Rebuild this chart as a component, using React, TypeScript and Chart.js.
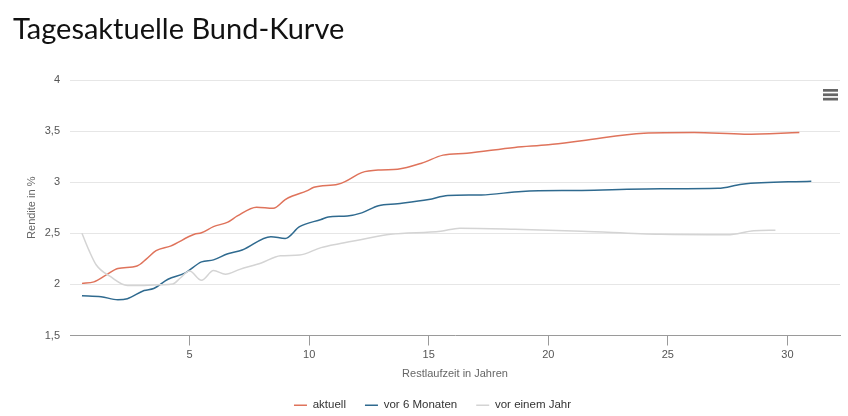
import { useEffect, useRef } from "react";
import { Chart, registerables } from "chart.js";

Chart.register(...registerables);

const seriesNames = ["aktuell", "vor 6 Monaten", "vor einem Jahr"];

const maturitiesCurrent = [0.5, 1.0, 1.5, 2.0, 2.8, 3.2, 3.6, 4.2, 5.2, 5.5, 6.0, 6.6, 7.0, 7.8, 8.5, 9.0, 9.3, 9.9, 10.2, 11.2, 11.5, 12.2, 13.0, 13.7, 14.7, 15.6, 16.6, 18.6, 20.0, 21.4, 24.0, 26.1, 28.2, 30.5];
const yieldsCurrent = [2.01, 2.025, 2.09, 2.155, 2.18, 2.25, 2.33, 2.375, 2.49, 2.505, 2.565, 2.61, 2.67, 2.755, 2.745, 2.83, 2.865, 2.915, 2.95, 2.98, 3.006, 3.094, 3.12, 3.127, 3.186, 3.265, 3.284, 3.34, 3.366, 3.405, 3.48, 3.486, 3.47, 3.486];

const maturities6M = [0.5, 1.3, 2.0, 2.4, 3.1, 3.5, 4.1, 4.8, 5.5, 6.0, 6.6, 7.2, 8.4, 9.0, 9.6, 10.5, 10.8, 11.6, 12.2, 12.9, 13.7, 15.0, 15.8, 17.2, 18.9, 21.4, 24.7, 27.1, 28.1, 31.0];
const yields6M = [1.89, 1.88, 1.85, 1.86, 1.94, 1.96, 2.05, 2.11, 2.22, 2.24, 2.30, 2.336, 2.467, 2.45, 2.565, 2.635, 2.66, 2.67, 2.70, 2.77, 2.79, 2.83, 2.87, 2.875, 2.91, 2.92, 2.935, 2.94, 2.98, 3.01];

const maturities1Y = [0.5, 0.8, 1.1, 1.7, 2.4, 3.1, 3.8, 4.3, 4.6, 5.0, 5.5, 6.0, 6.5, 7.1, 8.0, 8.8, 9.6, 10.5, 11.3, 12.2, 13.4, 15.5, 16.3, 18.6, 21.4, 24.7, 27.5, 28.6, 29.5];
const yields1Y = [2.5, 2.33, 2.19, 2.075, 1.99, 1.99, 1.996, 2.003, 2.06, 2.13, 2.04, 2.135, 2.10, 2.147, 2.21, 2.28, 2.287, 2.36, 2.40, 2.44, 2.49, 2.52, 2.55, 2.54, 2.52, 2.49, 2.486, 2.525, 2.53];

const seriesColors = ["#df735b", "#2f6a8f", "#d4d4d4"];

const xTickValues = [5, 10, 15, 20, 25, 30];
const xMin = 0;
const xMax = 32.2;
const yMin = 1.5;
const yMax = 4;
const yStep = 0.5;

const titleText = "Tagesaktuelle Bund-Kurve";
const xAxisTitle = "Restlaufzeit in Jahren";
const yAxisTitle = "Rendite in %";

function toPoints(xs: number[], ys: number[]) {
  return xs.map((x, i) => ({ x, y: ys[i] }));
}

export default function App() {
  const ref = useRef<HTMLCanvasElement>(null);

  useEffect(() => {
    const font = { family: "'Liberation Sans', Arial, sans-serif", size: 11 };
    const seriesData = [
      toPoints(maturitiesCurrent, yieldsCurrent),
      toPoints(maturities6M, yields6M),
      toPoints(maturities1Y, yields1Y),
    ];
    const chart = new Chart(ref.current!, {
      type: "line",
      data: {
        datasets: seriesNames.map((name, i) => ({
          label: name,
          data: seriesData[i],
          borderColor: seriesColors[i],
          backgroundColor: seriesColors[i],
          borderWidth: 1.5,
          pointRadius: 0,
          pointStyle: "line",
          cubicInterpolationMode: "monotone" as const,
          fill: false,
          order: 3 - i,
        })),
      },
      options: {
        animation: false,
        responsive: false,
        layout: { padding: { top: 80, right: 8, left: 25, bottom: -5 } },
        scales: {
          x: {
            type: "linear",
            min: xMin,
            max: xMax,
            afterBuildTicks: (s: any) => {
              s.ticks = xTickValues.map((v) => ({ value: v }));
            },
            afterFit: (s: any) => {
              s.height = 45;
            },
            grid: { drawOnChartArea: false, drawTicks: true, tickLength: 10, color: "#9a9a9a" },
            border: { color: "#9a9a9a", width: 1 },
            ticks: { padding: 3, font, color: "#555", maxRotation: 0 },
            title: {
              display: true,
              text: xAxisTitle,
              font,
              color: "#666",
              padding: { top: 0, bottom: 0 },
            },
          },
          y: {
            min: yMin,
            max: yMax,
            afterFit: (s: any) => {
              s.width = 45;
            },
            ticks: {
              stepSize: yStep,
              padding: 10,
              font,
              color: "#555",
              callback: (v: any) => String(v).replace(".", ","),
            },
            grid: {
              drawTicks: false,
              color: (c: any) => (c.tick && c.tick.value === yMin ? "rgba(0,0,0,0)" : "#e6e6e6"),
            },
            border: { display: false },
            title: {
              display: true,
              text: yAxisTitle,
              font,
              color: "#666",
              padding: { top: 0, bottom: 0 },
            },
          },
        },
        plugins: {
          legend: {
            position: "bottom",
            labels: {
              usePointStyle: true,
              pointStyleWidth: 13,
              padding: 19,
              font: { ...font, size: 11.5 },
              color: "#333",
              sort: (a: any, b: any) => a.datasetIndex - b.datasetIndex,
            },
          },
          tooltip: { enabled: false },
        },
      },
    } as any);
    return () => chart.destroy();
  }, []);

  return (
    <div style={{ position: "absolute", left: 0, top: 0, width: 848, height: 416, background: "#fff" }}>
      <canvas ref={ref} width={848} height={416} style={{ display: "block" }} />
      <div
        style={{
          position: "absolute",
          left: 13,
          top: 13,
          fontFamily: "Lato, 'Noto Sans', sans-serif",
          fontSize: 29,
          lineHeight: "29px",
          color: "#111",
          whiteSpace: "nowrap",
        }}
      >
        {titleText}
      </div>
      <svg
        width={848}
        height={416}
        style={{ position: "absolute", left: 0, top: 0, pointerEvents: "none" }}
      >
        <rect x={823} y={89} width={15} height={2.7} fill="#666" />
        <rect x={823} y={93.4} width={15} height={2.7} fill="#666" />
        <rect x={823} y={97.8} width={15} height={2.7} fill="#666" />
      </svg>
    </div>
  );
}
